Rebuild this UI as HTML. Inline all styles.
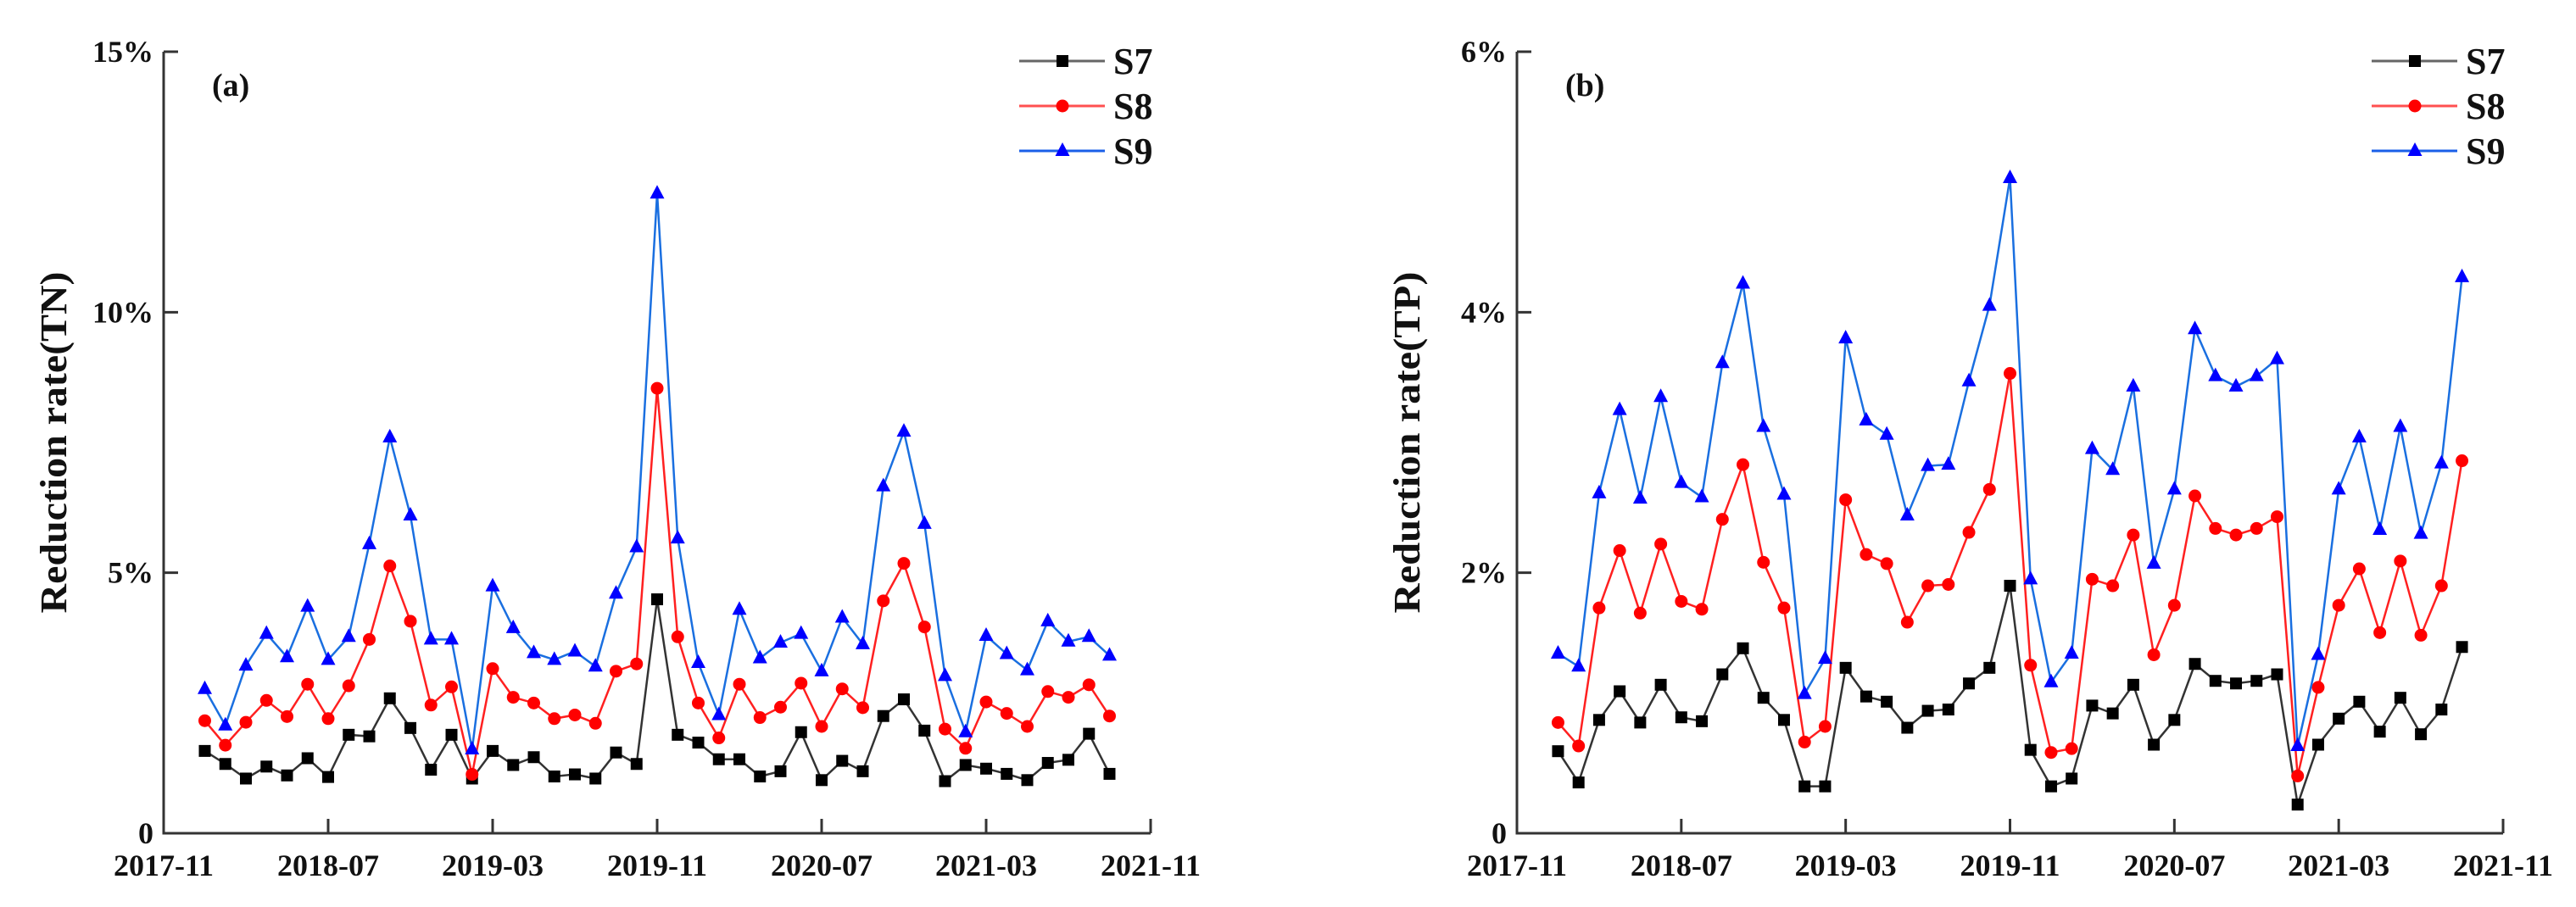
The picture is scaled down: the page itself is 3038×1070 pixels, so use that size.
<!DOCTYPE html>
<html><head><meta charset="utf-8"><style>
html,body{margin:0;padding:0;background:#fff;}
svg{display:block;}
text{font-family:"Liberation Serif",serif;font-weight:bold;fill:#111;}
</style></head><body>
<svg id="chart" width="3038" height="1070" viewBox="0 0 3038 1070" xmlns="http://www.w3.org/2000/svg"></svg>
<script>
// ---- data ----
const xTickLabels = ["2017-11","2018-07","2019-03","2019-11","2020-07","2021-03","2021-11"];
const monthStart = 2; // first point = 2018-01 (months after 2017-11)
const tnTicks = [0,5,10,15];
const tnTickLabels = ["0","5%","10%","15%"];
const tpTicks = [0,2,4,6];
const tpTickLabels = ["0","2%","4%","6%"];
const seriesNames = ["S7","S8","S9"];
const tnS7 = [1.58,1.33,1.05,1.28,1.11,1.44,1.08,1.89,1.86,2.59,2.02,1.22,1.89,1.05,1.58,1.31,1.46,1.09,1.13,1.05,1.55,1.33,4.49,1.89,1.74,1.42,1.42,1.09,1.19,1.94,1.02,1.39,1.19,2.25,2.57,1.97,1.00,1.31,1.24,1.14,1.02,1.35,1.41,1.91,1.14];
const tnS8 = [2.16,1.69,2.13,2.55,2.24,2.86,2.20,2.83,3.72,5.13,4.07,2.46,2.81,1.13,3.16,2.61,2.50,2.20,2.27,2.11,3.11,3.25,8.54,3.77,2.50,1.83,2.86,2.22,2.42,2.88,2.05,2.77,2.41,4.46,5.18,3.96,2.00,1.63,2.52,2.30,2.05,2.72,2.61,2.85,2.25];
const tnS9 = [2.77,2.07,3.22,3.83,3.38,4.35,3.33,3.77,5.55,7.60,6.10,3.72,3.72,1.61,4.74,3.94,3.46,3.33,3.49,3.20,4.60,5.49,12.28,5.66,3.27,2.27,4.29,3.36,3.66,3.83,3.11,4.14,3.63,6.66,7.71,5.94,3.02,1.94,3.79,3.44,3.13,4.07,3.68,3.77,3.41];
const tpS7 = [0.63,0.39,0.87,1.09,0.85,1.14,0.89,0.86,1.22,1.42,1.04,0.87,0.36,0.36,1.27,1.05,1.01,0.81,0.94,0.95,1.15,1.27,1.90,0.64,0.36,0.42,0.98,0.92,1.14,0.68,0.87,1.30,1.17,1.15,1.17,1.22,0.22,0.68,0.88,1.01,0.78,1.04,0.76,0.95,1.43];
const tpS8 = [0.85,0.67,1.73,2.17,1.69,2.22,1.78,1.72,2.41,2.83,2.08,1.73,0.70,0.82,2.56,2.14,2.07,1.62,1.90,1.91,2.31,2.64,3.53,1.29,0.62,0.65,1.95,1.90,2.29,1.37,1.75,2.59,2.34,2.29,2.34,2.43,0.44,1.12,1.75,2.03,1.54,2.09,1.52,1.90,2.86];
const tpS9 = [1.38,1.28,2.61,3.25,2.57,3.35,2.69,2.58,3.61,4.22,3.12,2.60,1.07,1.34,3.80,3.17,3.06,2.44,2.82,2.83,3.47,4.05,5.03,1.95,1.16,1.38,2.95,2.79,3.43,2.07,2.64,3.87,3.51,3.43,3.51,3.64,0.67,1.37,2.64,3.04,2.33,3.12,2.30,2.84,4.27];

const NS="http://www.w3.org/2000/svg";
const svg=document.getElementById('chart');
const colors=["#000000","#ff0000","#0000ff"];
const lineColors=["#333333","#ff2020","#1a6fe0"];
const legLineColors=["#666666","#ff5050","#1a5fe8"];
function mk(tag,attrs,parent){const e=document.createElementNS(NS,tag);for(const k in attrs)e.setAttribute(k,attrs[k]);(parent||svg).appendChild(e);return e;}

function marker(g,kind,x,y,c){
  let m;
  if(kind===0){m=mk('rect',{x:x-7,y:y-7,width:14,height:14,fill:c},g);}
  else if(kind===1){m=mk('circle',{cx:x,cy:y,r:7.5,fill:c},g);}
  else {m=mk('polygon',{points:`${x},${y-10} ${x-8.5},${y+6} ${x+8.5},${y+6}`,fill:c},g);}
  return m;
}

function panel(opt){
  const {x0,x1,y0,y1,vmax,ticks,tickLabels,series,title,letter,legX,key}=opt;
  const g=mk('g',{});
  
  
  const xs=m=>x0+(x1-x0)*m/48;
  const ys=v=>y0-(y0-y1)*v/vmax;
  const ax=mk('path',{d:`M${x0},${y1} L${x0},${y0} L${x1},${y0}`,fill:'none',stroke:'#333',"stroke-width":3},g);
  
  
  ticks.forEach((t,i)=>{
    const y=ys(t);
    if(i>0) mk('line',{x1:x0,y1:y,x2:x0+17,y2:y,stroke:'#333',"stroke-width":3},g);
    const tl=mk('text',{x:x0-12,y:y+12,"text-anchor":"end","font-size":36},g);
    tl.textContent=tickLabels[i];
    
    
  });
  xTickLabels.forEach((lab,i)=>{
    const x=xs(i*8);
    if(i>0) mk('line',{x1:x,y1:y0,x2:x,y2:y0-17,stroke:'#333',"stroke-width":3},g);
    const tl=mk('text',{x:x,y:y0+50,"text-anchor":"middle","font-size":36},g);
    tl.textContent=lab;
    
    
  });
  const yt=mk('text',{x:0,y:0,"text-anchor":"middle","font-size":44,textLength:403,lengthAdjust:"spacingAndGlyphs",transform:`translate(${x0-115},${(y0+y1)/2}) rotate(-90)`},g);
  yt.textContent=title;
  
  
  const lt=mk('text',{x:x0+57,y:y1+52,"font-size":38},g);
  lt.textContent=letter;
  
  
  series.forEach((vals,si)=>{
    const sg=mk('g',{},g);
    
    
    const pts=vals.map((v,i)=>`${xs(monthStart+i)},${ys(v)}`).join(' ');
    mk('polyline',{points:pts,fill:'none',stroke:lineColors[si],"stroke-width":2.5},sg);
    vals.forEach((v,i)=>{
      const m=marker(sg,si,xs(monthStart+i),ys(v),colors[si]);
      
      
    });
    const ly=72+si*53;
    const lg=mk('g',{},g);
    
    
    mk('line',{x1:legX,y1:ly,x2:legX+101,y2:ly,stroke:legLineColors[si],"stroke-width":3},lg);
    marker(lg,si,legX+51,ly,colors[si]);
    const txt=mk('text',{x:legX+111,y:ly+15,"font-size":44},lg);
    txt.textContent=seriesNames[si];
  });
}
panel({x0:193,x1:1357,y0:983,y1:61,vmax:15,ticks:tnTicks,tickLabels:tnTickLabels,series:[tnS7,tnS8,tnS9],title:"Reduction rate(TN)",letter:"(a)",legX:1202,key:"tn"});
panel({x0:1789,x1:2952,y0:983,y1:61,vmax:6,ticks:tpTicks,tickLabels:tpTickLabels,series:[tpS7,tpS8,tpS9],title:"Reduction rate(TP)",letter:"(b)",legX:2797,key:"tp"});
</script>
</body></html>
